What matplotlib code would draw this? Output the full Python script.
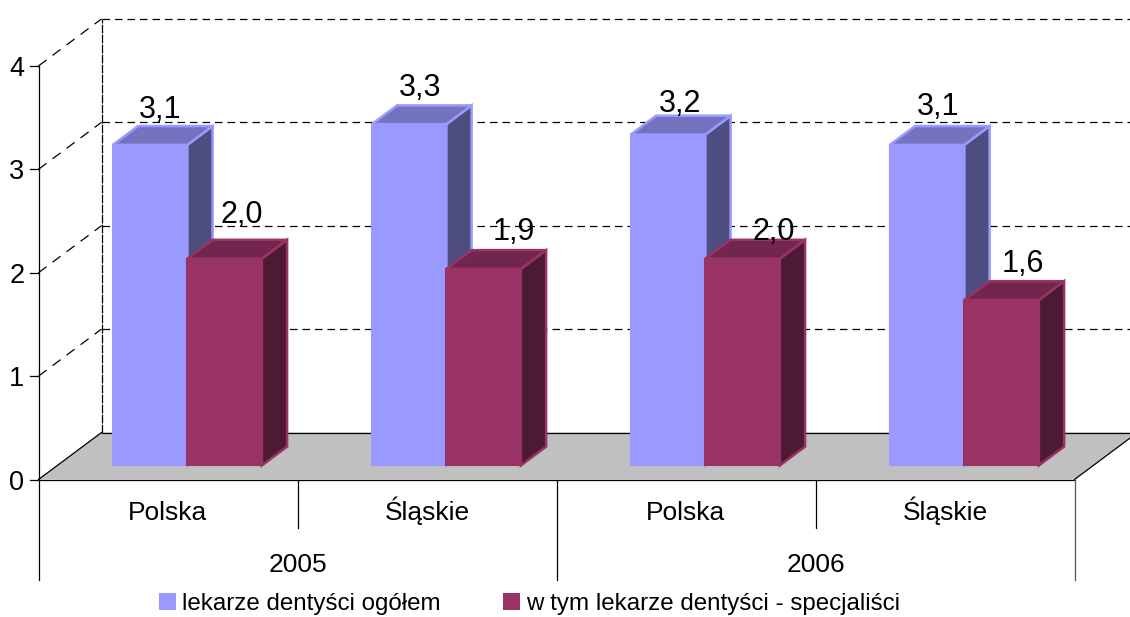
import matplotlib
matplotlib.use('Agg')
import matplotlib.pyplot as plt
from matplotlib.patches import Polygon, Patch

plt.rcParams['font.family'] = ['Liberation Sans', 'DejaVu Sans']

# data
regions = ['Polska', 'Śląskie', 'Polska', 'Śląskie']
years = ['2005', '2006']
series_names = ['lekarze dentyści ogółem', 'w tym lekarze dentyści - specjaliści']
ogolem = [3.1, 3.3, 3.2, 3.1]
specjalisci = [2.0, 1.9, 2.0, 1.6]
yticks = [0, 1, 2, 3, 4]

# hand placed label nudges, in pixels from the middle of the bar lid
ogolem_dx = [-3.1, -1.6, -1.1, -2.1]
ogolem_dy = [8.0, 9.4, 3.7, 11.0]
spec_dx = [4.9, 17.9, 18.9, 8.9]
spec_dy = [16.8, 10.1, -0.2, 9.2]

# pixel layout of the fake 3D box
W, H = 1130, 617
x0_px, y0_px = 38.5, 479.5
cat_px = 259.0
unit_px = 103.4
depth_x, depth_y = 63.0 / cat_px, 47.0 / unit_px   # full floor depth, in data units
bar_w = 74.5 / cat_px
bar_depth = 0.40
bar_front = 0.30

fig = plt.figure(figsize=(W / 100, H / 100), dpi=100)
ax = fig.add_axes([0, 0, 1, 1])
ax.set_xlim(-x0_px / cat_px, (W - x0_px) / cat_px)
ax.set_ylim(-(H - y0_px) / unit_px, y0_px / unit_px)
ax.axis('off')

n = len(regions)
px_x = 1.0 / cat_px   # one pixel in x units
px = 1.0 / unit_px    # one pixel in y units
below_1 = -48 * px
below_2 = -100 * px


def box(x, val, front, side, top):
    # one bar: front face + side + lid, shifted back on the floor
    xl, xr = x + bar_front * depth_x, x + bar_front * depth_x + bar_w
    yb, yt = bar_front * depth_y, bar_front * depth_y + val
    dd_x, dd_y = bar_depth * depth_x, bar_depth * depth_y
    ax.add_patch(Polygon([(xr, yb), (xr + dd_x, yb + dd_y), (xr + dd_x, yt + dd_y), (xr, yt)],
                         fc=side, ec=front, lw=1.8, joinstyle='miter', zorder=3))
    ax.add_patch(Polygon([(xl, yt), (xr, yt), (xr + dd_x, yt + dd_y), (xl + dd_x, yt + dd_y)],
                         fc=top, ec=front, lw=1.8, joinstyle='miter', zorder=3))
    ax.add_patch(Polygon([(xl, yb), (xr, yb), (xr, yt), (xl, yt)],
                         fc=front, ec=front, lw=1.5, joinstyle='miter', zorder=3))
    return xl + bar_w / 2 + dd_x / 2, yt + dd_y


# floor
right = n
ax.add_patch(Polygon([(0, 0), (right, 0), (right + depth_x, depth_y), (depth_x, depth_y)],
                     fc='#C0C0C0', ec='none', zorder=1))
ax.plot([0, depth_x], [0, depth_y], color='k', lw=0.9, zorder=2)
ax.plot([right, right + depth_x], [0, depth_y], color='k', lw=0.9, zorder=2)

# walls
dash = (0, (6, 4))
for t in yticks:
    ax.plot([depth_x, right + depth_x], [t + depth_y, t + depth_y], color='k', lw=0.9,
            ls=dash if t > 0 else '-', zorder=2)
    if t > 0:
        ax.plot([0, depth_x], [t, t + depth_y], color='k', lw=0.9, ls=(0, (8, 6)), zorder=2)
    ax.plot([-9 * px_x, 0], [t, t], color='k', lw=0.9, zorder=2)
    ax.text(-14 * px_x, t, str(t), ha='right', va='center_baseline', fontsize=19.5)
ax.plot([depth_x, depth_x], [depth_y, yticks[-1] + depth_y], color='k', lw=0.9,
        ls=(0, (7, 1)), zorder=2)

# axis lines + multi level category separators
ax.plot([0, 0], [below_2, yticks[-1]], color='k', lw=0.9, zorder=2)
ax.plot([0, right], [0, 0], color='k', lw=0.9, zorder=2)
ax.plot([2, 2], [below_2, 0], color='k', lw=0.9, zorder=2)
ax.plot([right, right], [below_2, 0], color='#555555', lw=0.9, zorder=2)
for k in (1, 3):
    ax.plot([k, k], [below_1, 0], color='k', lw=0.9, zorder=2)

# bars + labels
for i in range(n):
    c1 = i + 0.5 - bar_w + 0.5 * px_x
    c2 = i + 0.5 + 0.5 * px_x
    lx, ly = box(c1, ogolem[i], '#9999FF', '#4D4D80', '#7373BF')
    ax.text(lx + ogolem_dx[i] * px_x, ly + ogolem_dy[i] * px, f'{ogolem[i]:.1f}'.replace('.', ','),
            ha='center', va='baseline', fontsize=22, zorder=5)
    lx, ly = box(c2, specjalisci[i], '#993366', '#4D1A33', '#73264D')
    ax.text(lx + spec_dx[i] * px_x, ly + spec_dy[i] * px, f'{specjalisci[i]:.1f}'.replace('.', ','),
            ha='center', va='baseline', fontsize=22, zorder=5)
    ax.text(i + 0.5, -40.5 * px, regions[i], ha='center', va='baseline', fontsize=19)

for j, y in enumerate(years):
    ax.text(2 * j + 1, -92.5 * px, y, ha='center', va='baseline', fontsize=19)

handles = [Patch(fc='#9999FF', ec='none'), Patch(fc='#993366', ec='none')]
ax.legend(handles, series_names, ncol=2, frameon=False, fontsize=17.4,
          loc='center', bbox_to_anchor=(529.5 / W, 1 - 604 / H),
          handlelength=0.7, handleheight=0.7, handletextpad=0.25, columnspacing=2.55)

fig.savefig('out.png', dpi=100)
